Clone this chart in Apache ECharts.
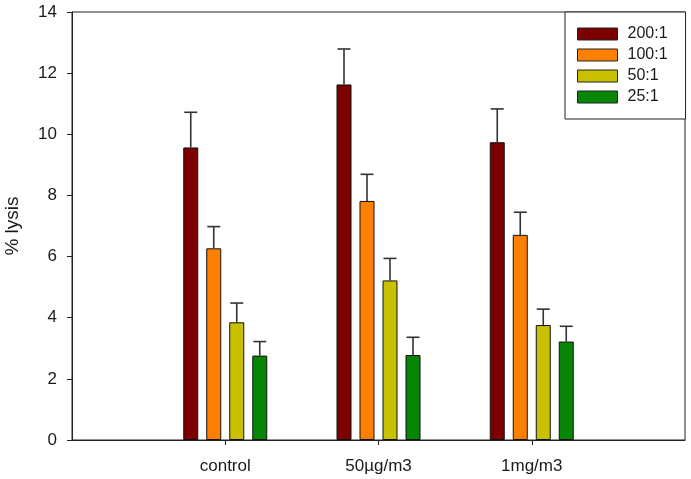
<!DOCTYPE html>
<html>
<head>
<meta charset="utf-8">
<script src="https://cdn.jsdelivr.net/npm/echarts@6/dist/echarts.min.js"></script>
<style>html,body{margin:0;padding:0;background:#fff}#c{width:691px;height:479px}</style>
</head>
<body>
<div id="c"></div>
<script>
const categories = ['control', '50µg/m3', '1mg/m3'];
const seriesNames = ['200:1', '100:1', '50:1', '25:1'];
const v200 = [9.57, 11.63, 9.74];
const v100 = [6.27, 7.82, 6.71];
const v50  = [3.85, 5.22, 3.76];
const v25  = [2.76, 2.78, 3.22];
const e200 = [1.15, 1.16, 1.09];
const e100 = [0.71, 0.87, 0.74];
const e50  = [0.63, 0.72, 0.52];
const e25  = [0.46, 0.58, 0.50];
const yTicks = [0, 2, 4, 6, 8, 10, 12, 14];

const values = [v200, v100, v50, v25];
const errors = [e200, e100, e50, e25];
const colors = ['#7d0000', '#ff8000', '#c8c000', '#068506'];

const axisCats = [''].concat(categories, ['']);
const pad = arr => ['-'].concat(arr, ['-']);

const BAR_W = 15, STEP = 23, FONT = 'Liberation Sans, Arial, sans-serif', TXT = '#1a1a1a';

const series = [];
values.forEach((vals, i) => {
  series.push({
    name: seriesNames[i], type: 'bar', data: pad(vals),
    barWidth: BAR_W, barGap: ((STEP - BAR_W) / BAR_W * 100) + '%',
    itemStyle: { color: colors[i], borderColor: '#111', borderWidth: 1 },
    z: 2
  });
});
values.forEach((vals, i) => {
  const offset = (i - (values.length - 1) / 2) * STEP;
  series.push({
    type: 'custom', silent: true, z: 3,
    data: vals.map((v, k) => [k + 1, v, errors[i][k]]),
    encode: { x: 0, y: 1 },
    renderItem: (params, api) => {
      const x = api.value(0), v = api.value(1), e = api.value(2);
      const p0 = api.coord([x, v]);
      const p1 = api.coord([x, v + e]);
      const cx = p0[0] + offset;
      const hw = 6.5;
      const style = { stroke: '#333', lineWidth: 1.6 };
      return { type: 'group', children: [
        { type: 'line', shape: { x1: cx, y1: p0[1], x2: cx, y2: p1[1] }, style },
        { type: 'line', shape: { x1: cx - hw, y1: p1[1], x2: cx + hw, y2: p1[1] }, style }
      ]};
    }
  });
});

const chart = echarts.init(document.getElementById('c'));
chart.setOption({
  animation: false,
  backgroundColor: '#fff',
  grid: { left: 72, top: 12, right: 6, bottom: 39, show: true, borderColor: '#222', borderWidth: 1,
          containLabel: false, outerBoundsMode: 'none' },
  legend: {
    data: seriesNames, orient: 'vertical', left: 565, top: 12,
    padding: [14, 18, 14, 12], itemWidth: 40, itemHeight: 12, itemGap: 5,
    borderColor: '#222', borderWidth: 1, backgroundColor: '#fff',
    icon: 'rect',
    itemStyle: { borderColor: '#222', borderWidth: 1 },
    textStyle: { fontFamily: FONT, fontSize: 16, color: TXT, lineHeight: 16, padding: [0, 0, 0, 5] }
  },
  xAxis: {
    type: 'category', data: axisCats, boundaryGap: false,
    axisLine: { lineStyle: { color: '#222', width: 1 } },
    axisTick: { length: 5, interval: (idx, val) => val !== '', lineStyle: { color: '#222' } },
    axisLabel: { interval: 0, margin: 18, fontFamily: FONT, fontSize: 17, color: TXT },
    splitLine: { show: false }
  },
  yAxis: {
    type: 'value', min: yTicks[0], max: yTicks[yTicks.length - 1], interval: yTicks[1] - yTicks[0],
    name: '% lysis', nameLocation: 'middle', nameGap: 50, nameRotate: 90,
    nameTextStyle: { fontFamily: FONT, fontSize: 19, color: TXT },
    axisLine: { show: true, lineStyle: { color: '#222', width: 1 } },
    axisTick: { show: true, length: 5, lineStyle: { color: '#222' } },
    axisLabel: { margin: 15, fontFamily: FONT, fontSize: 17, color: TXT },
    splitLine: { show: false }
  },
  series
});
</script>
</body>
</html>
